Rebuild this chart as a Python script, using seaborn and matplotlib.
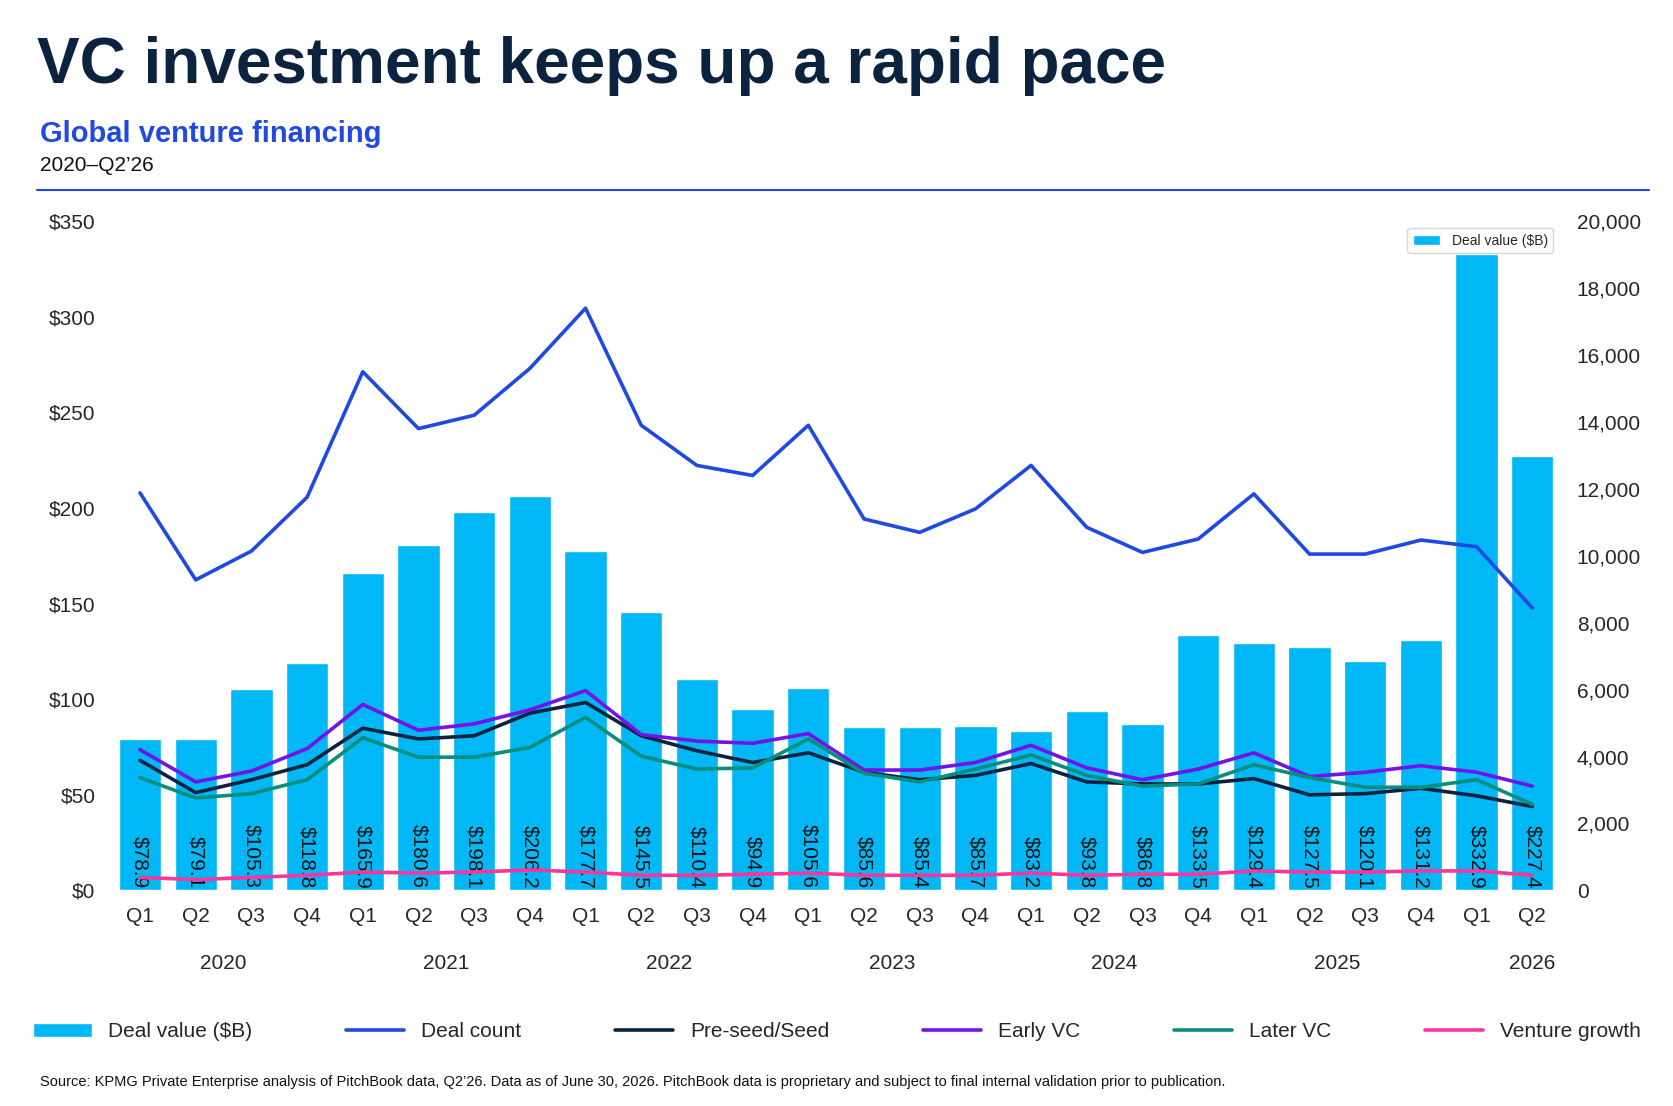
import numpy as np
import pandas as pd
import matplotlib.pyplot as plt
import seaborn as sns

quarters = ["Q1", "Q2", "Q3", "Q4"] * 6 + ["Q1", "Q2"]
years = ["2020", "2021", "2022", "2023", "2024", "2025", "2026"]
deal_value = [78.9, 79.1, 105.3, 118.8, 165.9, 180.6, 198.1, 206.2, 177.7, 145.5, 110.4, 94.9, 105.6,
              85.6, 85.4, 85.7, 83.2, 93.8, 86.8, 133.5, 129.4, 127.5, 120.1, 131.2, 332.9, 227.4]
deal_count = [11880, 9280, 10140, 11750, 15500, 13800, 14200, 15600, 17400, 13900, 12700, 12400, 13900,
              11100, 10700, 11400, 12700, 10850, 10100, 10500, 11850, 10050, 10050, 10470, 10270, 8440]
pre_seed = [3885, 2920, 3305, 3755, 4845, 4525, 4620, 5295, 5615, 4620, 4170, 3820, 4110,
            3530, 3305, 3435, 3790, 3240, 3180, 3180, 3340, 2855, 2890, 3050, 2825, 2505]
early_vc = [4205, 3240, 3565, 4235, 5555, 4785, 4975, 5395, 5970, 4655, 4460, 4395, 4685,
            3595, 3595, 3820, 4335, 3660, 3305, 3625, 4110, 3400, 3530, 3725, 3530, 3115]
later_vc = [3370, 2760, 2890, 3305, 4560, 3980, 3980, 4270, 5170, 4010, 3625, 3660, 4525,
            3500, 3240, 3625, 4045, 3435, 3115, 3180, 3755, 3370, 3080, 3080, 3305, 2570]
venture_growth = [385, 320, 385, 450, 545, 515, 545, 610, 545, 450, 450, 480, 515,
                  450, 450, 450, 515, 450, 480, 480, 580, 545, 545, 580, 580, 450]

sns.set_style("white")
plt.rcParams["font.family"] = ["Liberation Sans", "DejaVu Sans"]

fig = plt.figure(figsize=(16.74, 11.06), dpi=100)
ax = fig.add_axes([0.067, 0.195, 0.865, 0.605])
x = np.arange(len(deal_value))
df = pd.DataFrame({"x": x, "value": deal_value})
sns.barplot(data=df, x="x", y="value", color="#00B8F5", saturation=1, width=0.76, ax=ax,
            native_scale=True, label="Deal value ($B)")
for i, v in enumerate(deal_value):
    ax.text(i, 1, f"${v}", rotation=270, ha="center", va="bottom", fontsize=15, color="#111")
ax.set_ylim(0, 350)
ax.set_xlim(-0.5, 25.5)
ax.set_yticks(range(0, 351, 50))
ax.set_yticklabels([f"${t}" for t in range(0, 351, 50)], fontsize=15)
ax.set_xticks(x)
ax.set_xticklabels(quarters, fontsize=15)
ax.set_xlabel("")
ax.set_ylabel("")
ax.tick_params(length=0, pad=12)
for i, yr in enumerate(years):
    ax.text(min(i * 4 + 1.5, 25), -0.095, yr, transform=ax.get_xaxis_transform(),
            ha="center", va="top", fontsize=15)
sns.despine(ax=ax, left=True, bottom=True)

ax2 = ax.twinx()
series = [("Deal count", deal_count, "#1E49E2"), ("Pre-seed/Seed", pre_seed, "#0C233F"),
          ("Early VC", early_vc, "#7213EA"), ("Later VC", later_vc, "#098E7E"),
          ("Venture growth", venture_growth, "#FD349C")]
for name, vals, c in series:
    sns.lineplot(x=x, y=vals, color=c, lw=2.6, ax=ax2, label=name)
ax2.set_ylim(0, 20000)
ax2.set_yticks(range(0, 20001, 2000))
ax2.set_yticklabels([f"{t:,}" for t in range(0, 20001, 2000)], fontsize=15)
ax2.tick_params(length=0, pad=12)
sns.despine(ax=ax2, left=True, bottom=True, right=True)
ax2.get_legend().remove()

h1, l1 = ax.get_legend_handles_labels()
h2, l2 = ax2.get_legend_handles_labels()
fig.legend(h1 + h2, l1 + l2, loc="center", bbox_to_anchor=(0.5, 0.067), ncol=6, frameon=False,
           fontsize=15, handlelength=2.8, columnspacing=4.5)

fig.text(0.022, 0.925, "VC investment keeps up a rapid pace", fontsize=46, fontweight="bold",
         color="#0C233F", fontstretch="condensed")
fig.text(0.024, 0.872, "Global venture financing", fontsize=21, fontweight="bold", color="#1E49E2")
fig.text(0.024, 0.845, "2020\u2013Q2\u201926", fontsize=15, color="#111")
fig.add_artist(plt.Line2D([0.022, 0.985], [0.828, 0.828], color="#1E49E2", lw=1.5))
fig.text(0.024, 0.018, "Source: KPMG Private Enterprise analysis of PitchBook data, Q2\u201926. Data as of June 30, 2026. "
         "PitchBook data is proprietary and subject to final internal validation prior to publication.",
         fontsize=10.5, color="#111")
fig.savefig("out.png", dpi=100)
